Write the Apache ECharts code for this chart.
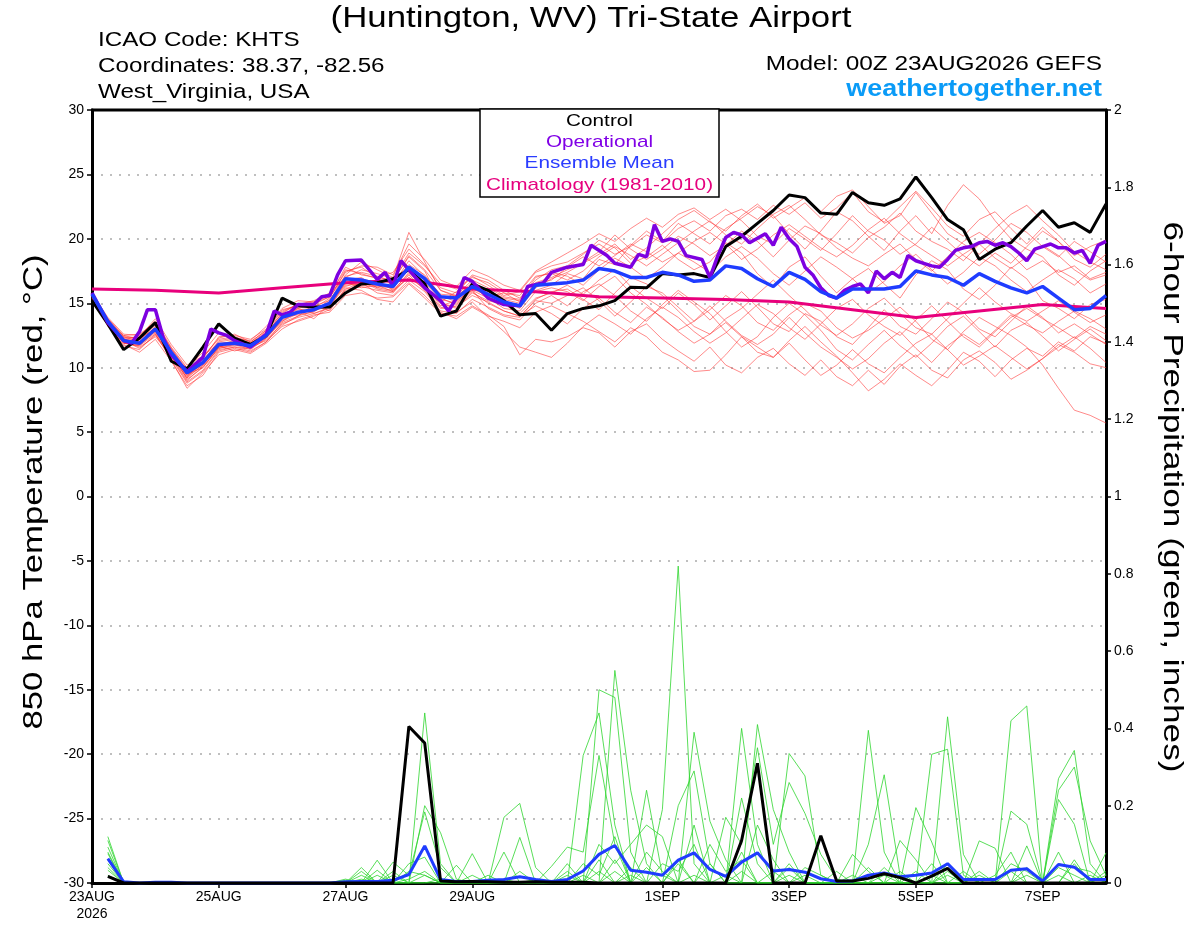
<!DOCTYPE html>
<html><head><meta charset="utf-8">
<script src="https://cdn.jsdelivr.net/npm/echarts@6.0.0/dist/echarts.min.js"></script>
<style>html,body{margin:0;padding:0;background:#fff}#chart{width:1200px;height:927px}</style>
</head><body><div id="chart"></div>
<script>
// ---------- axis ticks ----------
const xTickHours = [0, 48, 96, 144, 216, 264, 312, 360];
const xTickLabels = ['23AUG\n2026', '25AUG', '27AUG', '29AUG', '1SEP', '3SEP', '5SEP', '7SEP'];

// ---------- 850 hPa temperature (6-hourly, forecast hours 0..384) ----------
const controlTemp = [15.2,13.4,11.4,12.3,13.5,10.5,9.9,11.6,13.4,12.3, 11.8,12.5,15.4,14.8,14.7,14.7,15.8,16.5,16.6,16.9, 17.6,16.5,14.0,14.4,16.5,16.0,15.2,14.1,14.2,12.9, 14.2,14.6,14.8,15.2,16.25,16.2,17.3,17.2,17.3,17.0, 19.4,20.2,21.2,22.2,23.4,23.2,22.0,21.9,23.6,22.8, 22.6,23.1,24.8,23.2,21.5,20.7,18.4,19.2,19.7,21.0, 22.2,20.9,21.25,20.5,22.7];
const meanTemp = [15.7,13.6,12.1,11.9,13.0,11.2,9.6,10.4,11.8,11.9, 11.7,12.5,13.9,14.3,14.5,15.0,16.9,16.8,16.5,16.3, 17.8,16.9,15.5,15.4,16.3,15.7,15.1,14.8,16.4,16.5, 16.6,16.8,17.7,17.5,17.0,17.0,17.4,17.2,16.7,16.8, 17.9,17.7,16.9,16.3,17.4,16.85,15.9,15.4,16.1,16.1, 16.1,16.3,17.5,17.2,17.0,16.4,17.3,16.7,16.2,15.8, 16.3,15.4,14.5,14.6,15.6];
// operational run (3-hourly where visible)
const opHours = [0,6,12,15,18,21,24,27,30,36,42,45,48,51,54,60,66,69,72,75,78,84,87,90,93,96,102,105,108,111,114,117,120,126,129,132,135,138,141,144,150,156,162,165,171,174,180,186,189,195,198,204,207,210,213,216,219,222,225,231,234,237,240,243,246,249,255,258,261,264,267,270,273,276,279,282,285,288,291,294,297,300,303,306,309,312,315,318,321,324,327,330,333,336,339,342,345,348,351,354,357,360,363,366,369,372,375,378,381,384];
const opTemp = [15.8,13.5,12.1,11.9,12.8,14.5,14.5,12.3,11.0,9.7,10.8,13.0,12.7,12.5,12.1,11.6,12.6,14.4,14.1,14.3,14.9,14.9,15.5,15.6,17.2,18.3,18.35,17.6,16.85,17.4,16.3,18.3,17.6,16.2,15.7,15.2,14.4,15.4,17.0,16.7,15.4,14.9,14.8,16.3,16.6,17.4,17.8,18.0,19.5,18.7,18.1,17.8,18.8,18.6,21.1,19.8,20.0,19.8,18.7,18.4,17.0,18.7,20.1,20.5,20.3,19.7,20.4,19.5,20.9,20.0,19.4,17.8,17.2,16.2,15.6,15.4,16.0,16.3,16.5,15.8,17.5,16.9,17.4,17.0,18.7,18.3,18.1,17.9,17.8,18.4,19.1,19.3,19.4,19.7,19.8,19.5,19.7,19.4,18.9,18.3,19.2,19.4,19.6,19.3,19.3,18.9,19.1,18.1,19.5,19.8];
const climHours = [0,24,48,72,96,120,144,168,192,216,240,264,288,312,336,360,384];
const climTemp = [16.1,16.0,15.8,16.2,16.6,16.8,16.1,15.9,15.5,15.4,15.3,15.1,14.5,13.9,14.4,14.9,14.6];

// ensemble members
const member01 = [15.6,13.8,12.4,12.0,12.8,11.0,9.2,10.8,12.3,12.6, 12.0,12.9,14.2,15.0,14.6,15.4,17.5,17.8,17.0,17.4, 19.2,18.0,16.2,15.8,17.1,16.4,15.6,15.9,17.4,17.9, 18.2,18.9,19.6,18.8,19.4,20.3,19.7,20.8,21.4,20.6, 21.8,22.3,21.5,22.6,21.9,22.8,21.6,22.4,23.6,22.1, 21.3,22.5,23.7,22.4,21.0,20.2,21.5,22.1,20.8,19.6, 20.9,19.8,18.7,19.4,19.9];
const member02 = [15.5,13.2,11.8,11.2,12.2,10.5,8.6,9.4,11.2,11.5, 11.2,12.0,13.5,14.0,14.9,14.4,16.2,16.0,15.3,15.1, 16.5,15.4,14.2,14.0,14.8,14.1,13.2,11.0,12.2,12.0, 12.4,13.1,12.7,11.6,12.8,13.4,12.2,11.3,10.5,11.6, 10.2,9.6,10.8,11.5,10.3,9.4,10.6,9.3,8.6,9.8, 8.7,10.1,11.0,9.8,9.2,10.6,11.3,10.4,9.1,9.8, 10.7,11.8,11.2,10.3,10.0];
const member03 = [15.8,13.9,12.6,12.5,13.6,11.6,10.0,11.2,12.7,12.3, 12.1,13.2,14.6,15.2,15.1,15.6,17.8,17.2,17.0,16.8, 18.6,17.5,15.1,15.9,17.2,16.8,16.0,15.4,16.8,17.6, 17.9,18.8,19.9,19.3,18.1,18.6,19.5,18.4,17.6,18.2, 19.7,18.9,17.3,16.2,17.8,18.6,17.1,15.8,16.9,17.7, 16.5,15.4,17.2,18.3,17.6,16.1,15.3,16.4,17.8,16.9, 15.2,14.6,13.8,14.9,15.3];
const member04 = [15.6,13.4,12.0,11.6,12.4,10.9,9.0,10.1,11.5,11.8, 11.4,12.3,13.6,14.4,13.8,14.9,16.4,16.5,16.8,16.0, 17.0,16.2,15.0,14.6,15.8,15.2,14.9,14.2,15.4,15.8, 16.4,15.7,16.8,17.6,16.3,15.4,14.6,15.8,14.9,13.7, 14.8,15.9,14.7,13.4,12.8,14.2,13.6,12.4,11.8,13.1, 14.5,13.2,12.6,13.8,15.1,14.3,13.0,12.4,13.6,14.8, 13.9,12.7,13.4,12.6,11.8];
const member05 = [15.7,13.7,12.2,12.1,13.3,11.4,9.8,10.6,12.0,12.2, 11.9,12.8,14.0,14.7,14.8,15.2,17.2,18.2,17.6,17.0, 20.5,18.2,16.0,15.6,16.4,15.9,15.3,15.0,16.0,16.4, 17.3,16.9,18.4,18.0,19.5,20.6,19.8,21.2,20.4,19.6, 20.8,21.6,22.5,21.8,20.4,19.2,20.6,22.1,21.4,20.2, 19.1,20.6,21.8,20.4,22.6,24.2,23.1,21.4,20.0,19.2, 18.6,17.2,16.4,17.5,18.3];
const member06 = [15.4,13.3,11.9,11.8,12.7,10.8,8.9,9.8,11.4,11.6, 11.5,12.2,13.4,13.9,14.2,14.6,16.0,16.3,16.0,15.8, 17.2,16.0,14.6,14.8,15.9,15.0,14.4,14.0,15.2,15.0, 15.6,16.2,15.2,14.0,15.1,16.3,15.8,14.7,13.6,14.5, 15.6,14.8,13.5,12.9,14.1,15.0,14.4,13.1,12.3,12.9, 13.8,14.7,13.6,12.2,11.4,12.8,13.9,13.2,12.5,11.6, 10.2,8.4,6.7,6.3,5.7];
const member07 = [15.8,13.6,12.3,12.4,13.8,11.8,10.2,10.9,11.9,12.0, 11.8,12.6,13.9,14.1,14.3,15.3,16.8,17.0,16.2,16.6, 18.0,17.2,15.6,15.1,16.2,15.5,15.8,15.6,17.1,17.3, 16.8,17.5,18.6,19.4,18.7,17.9,18.8,19.7,20.6,21.4, 20.3,19.6,20.8,21.9,22.6,21.5,20.3,19.7,18.9,20.1, 20.9,22.0,20.6,19.8,19.2,18.3,19.6,20.8,21.9,22.6, 21.4,20.3,19.0,18.2,17.6];
const member08 = [15.5,13.5,12.1,11.5,12.5,11.1,9.3,10.2,11.7,11.3, 11.6,12.4,13.8,14.6,14.2,14.7,16.6,16.2,16.4,15.9, 17.4,16.4,14.8,15.2,16.0,14.6,14.0,13.7,15.0,15.6, 14.8,15.9,16.5,15.6,14.4,13.6,14.9,16.0,15.1,14.2, 12.8,11.6,12.4,13.9,15.0,14.1,12.9,11.4,10.6,11.8, 12.9,11.7,10.8,11.9,13.2,14.0,12.8,11.6,12.9,13.5, 12.4,11.3,12.2,13.0,12.1];
const member09 = [15.6,13.6,12.5,12.2,13.1,11.3,9.5,10.0,11.6,11.9, 11.5,12.6,14.3,14.9,15.2,15.8,17.0,17.6,17.3,16.9, 18.9,17.9,16.5,16.1,17.0,16.6,15.8,15.1,16.6,17.0, 17.6,18.2,19.0,20.3,19.2,18.4,19.2,20.2,19.6,18.7, 19.5,20.6,19.8,18.6,19.9,21.0,20.4,19.3,18.5,17.9, 18.8,19.6,18.4,17.5,18.6,19.8,20.5,19.7,18.8,17.6, 18.3,17.4,17.9,16.9,17.4];
const member10 = [15.7,13.5,11.9,11.7,12.9,11.0,9.4,10.3,11.8,12.1, 11.6,12.1,13.2,13.6,14.0,14.5,16.1,16.6,15.8,15.6, 16.8,15.9,14.4,14.2,15.3,14.7,14.1,13.9,15.3,15.9, 16.1,15.3,14.5,15.8,17.0,16.5,15.6,14.4,13.2,12.6, 13.8,14.6,15.7,16.8,15.6,14.5,13.3,12.5,13.4,14.6, 15.4,14.2,13.1,12.6,13.8,15.0,16.2,15.1,14.2,13.6, 14.4,15.2,14.3,13.5,14.1];
const member11 = [15.6,13.3,11.7,11.4,12.6,10.6,8.4,9.6,11.0,11.4, 11.1,11.9,13.0,13.7,14.1,14.3,15.6,15.8,15.4,15.5, 16.6,15.6,14.3,13.8,14.7,14.0,13.6,13.1,14.3,14.8, 14.2,13.6,12.8,12.0,13.1,12.4,11.2,10.6,9.7,9.8, 11.0,12.4,11.6,10.8,12.1,13.2,12.0,10.9,9.6,8.2, 9.1,10.3,9.4,8.6,9.8,11.2,10.5,9.3,10.6,11.5, 10.9,12.0,11.3,12.4,11.9];
const member12 = [15.7,13.8,12.5,12.6,13.5,11.5,9.7,10.7,12.4,12.5, 12.2,13.0,14.5,14.8,15.0,15.5,17.4,17.9,17.8,17.2, 19.6,18.4,16.8,16.3,17.6,17.1,16.4,16.0,17.5,18.2, 18.9,19.6,20.4,19.8,20.8,21.6,20.9,21.9,22.4,21.5, 22.3,21.4,20.2,19.6,20.8,20.0,19.1,20.4,21.8,20.6, 19.9,18.8,19.6,20.9,19.8,18.7,17.9,18.9,18.1,19.4, 20.6,19.8,18.4,17.8,18.8];
const member13 = [15.5,13.4,12.0,11.9,13.2,11.2,9.1,10.0,11.5,11.7, 11.7,12.4,13.6,14.2,14.5,15.1,16.6,16.4,16.3,16.2, 17.6,16.6,15.3,15.0,16.1,15.6,15.2,14.6,16.2,16.9, 17.4,18.1,18.8,19.6,18.4,19.3,20.4,21.5,22.2,21.3, 20.6,21.8,22.7,21.6,22.4,23.2,22.1,23.3,23.8,22.5, 21.2,21.8,23.6,22.0,20.4,19.6,18.8,19.9,21.2,20.5, 19.4,18.6,19.8,19.0,18.2];
const member14 = [15.6,13.5,12.2,12.0,12.9,11.1,9.4,10.3,11.6,12.0, 11.8,12.3,14.0,14.5,14.6,14.9,16.7,16.9,16.6,16.1, 17.9,16.8,15.4,14.9,16.0,15.4,14.6,14.4,15.9,16.2, 15.9,15.2,16.3,17.1,15.8,14.9,13.8,12.9,13.6,14.8, 13.6,12.5,11.8,12.6,13.9,12.7,11.6,10.8,9.9,10.7, 11.9,12.8,11.5,10.4,11.7,12.6,11.8,12.9,14.1,13.3, 12.7,13.6,14.4,13.8,13.0];
const member15 = [15.7,13.6,12.3,12.2,13.4,11.5,9.9,10.9,12.2,12.4, 12.0,12.9,14.4,14.9,15.1,15.7,17.6,17.3,16.9,16.5, 18.3,17.1,15.7,15.6,16.8,16.2,15.5,15.3,17.0,17.4, 17.1,16.4,17.6,18.5,17.8,16.9,17.8,18.9,18.2,17.4, 18.6,19.4,18.5,17.3,16.4,17.5,18.6,17.8,16.9,15.8, 16.7,17.9,18.8,17.6,16.5,17.4,18.6,17.9,16.8,15.9, 16.8,17.6,16.9,15.8,16.5];
const member16 = [15.5,13.4,11.9,11.7,12.6,10.7,8.8,9.7,11.3,11.6, 11.3,12.0,13.3,14.0,14.4,14.8,16.3,16.7,16.1,15.9, 17.0,16.1,14.7,14.3,15.1,13.9,12.8,11.6,11.2,10.8, 11.9,13.2,14.1,13.4,12.6,13.8,14.7,13.9,12.8,11.9, 12.7,13.8,14.9,14.2,13.1,12.2,13.4,14.6,15.3,14.1, 13.2,12.5,13.7,14.8,13.6,12.4,11.6,12.8,13.9,14.6, 13.8,13.1,12.3,13.2,12.6];
const member17 = [15.6,13.7,12.4,12.3,13.0,11.2,9.6,10.5,12.1,12.3, 11.9,12.7,14.1,14.6,14.9,15.5,17.1,17.4,17.1,16.7, 18.7,17.6,16.0,15.5,16.6,16.0,15.4,15.2,16.5,16.8, 17.8,18.6,17.9,18.7,19.6,19.0,18.2,18.9,19.8,20.5, 19.6,18.4,19.2,20.3,21.1,20.2,19.3,18.6,19.5,20.7, 21.6,20.4,19.5,18.7,17.9,18.8,19.6,18.5,17.7,18.6, 19.5,18.7,17.6,16.8,17.2];
const member18 = [15.6,13.4,12.0,11.8,12.8,10.9,9.2,10.2,11.6,11.8, 11.6,12.3,13.7,14.3,14.4,15.0,16.5,16.8,16.2,16.0, 17.3,16.3,15.0,14.7,15.6,15.1,14.4,14.0,14.8,14.2, 13.4,14.6,15.4,14.3,13.5,14.7,13.9,12.8,11.9,12.6, 13.5,12.4,11.2,10.8,11.9,10.6,9.4,10.2,11.4,10.3, 9.6,10.8,11.9,12.6,11.4,10.2,10.9,11.7,10.8,9.9, 10.7,11.6,12.4,11.5,10.4];
const memberTemps = [member01,member02,member03,member04,member05,member06,member07,member08,member09,member10,member11,member12,member13,member14,member15,member16,member17,member18];

// ---------- 6-hour precipitation (inches), first step has none ----------
const controlPrecip = [null,0.017,0,0,0,0,0,0,0,0, 0,0,0,0,0,0,0,0,0,0, 0.405,0.362,0.005,0.003,0.004,0.003,0.002,0.002,0.003,0.002, 0.002,0.002,0,0,0,0,0,0,0,0, 0,0.11,0.31,0,0,0,0.122,0.005,0.005,0.012, 0.024,0.014,0,0.018,0.038,0,0,0,0,0, 0,0,0,0,0];
const meanPrecip = [null,0.063,0.003,0,0.002,0.002,0,0,0,0, 0,0,0,0,0,0,0.003,0.004,0.004,0.007, 0.022,0.096,0.009,0.004,0.004,0.007,0.009,0.016,0.009,0.004, 0.009,0.031,0.074,0.097,0.033,0.028,0.02,0.059,0.078,0.035, 0.017,0.054,0.078,0.031,0.035,0.028,0.011,0.004,0.005,0.02, 0.026,0.016,0.02,0.026,0.05,0.009,0.009,0.009,0.033,0.037, 0.005,0.048,0.041,0.009,0.009];
const precip01 = [null,0.12,0,0,0,0,0,0,0,0, 0,0,0,0,0,0,0,0.04,0,0, 0,0.44,0.05,0,0,0,0,0,0,0, 0,0,0.50,0.48,0.08,0,0,0,0,0, 0,0.22,0.05,0,0,0,0,0,0,0.395, 0.08,0,0,0,0,0,0,0,0.42,0.458, 0,0,0.05,0,0];
const precip02 = [null,0.11,0,0,0,0,0,0,0,0, 0,0,0,0,0,0,0,0,0.059,0, 0,0.2,0.13,0.01,0,0,0.17,0.206,0.04,0, 0,0,0,0.55,0.24,0.05,0,0.2,0.29,0.05, 0,0,0,0,0.335,0.277,0.02,0,0,0, 0,0,0,0,0.43,0.074,0,0,0,0, 0,0.27,0.343,0.05,0];
const precip03 = [null,0.093,0,0,0,0,0,0,0,0, 0,0,0,0,0,0,0,0,0,0.054, 0.02,0.184,0.04,0,0.076,0,0,0.118,0,0, 0,0.33,0.44,0.15,0,0,0.19,0.82,0.05,0, 0,0.40,0.10,0,0,0,0,0,0,0, 0,0,0,0.333,0.346,0.02,0,0,0,0, 0,0.24,0.30,0.109,0.02];
const precip04 = [null,0.076,0,0,0,0,0,0,0,0, 0,0,0,0,0,0,0,0.02,0,0, 0.05,0.067,0,0,0,0,0,0,0,0.043, 0.093,0.08,0.33,0.1,0,0.24,0.02,0,0.39,0.16, 0.06,0,0.41,0.19,0.08,0,0,0,0,0.1, 0.28,0.02,0,0,0,0,0,0,0.186,0.152, 0,0.216,0.152,0,0.078];
const precip05 = [null,0.033,0,0,0,0,0,0,0,0, 0,0,0,0,0,0,0.007,0,0.033,0, 0,0.02,0,0,0,0,0.08,0,0,0, 0.05,0,0.1,0.05,0.1,0.15,0.12,0,0.15,0, 0.17,0.1,0.35,0.1,0.26,0.18,0.074,0.01,0,0, 0,0,0.195,0.106,0,0,0.109,0.09,0,0.096, 0,0,0,0,0];
const precip06 = [null,0.02,0,0,0,0,0,0,0,0, 0,0,0,0,0,0,0,0.03,0,0.02, 0,0,0,0.046,0,0,0,0,0,0, 0,0.05,0.02,0.12,0,0,0,0.05,0,0.1, 0.03,0.06,0,0,0.02,0,0,0,0.074,0.03, 0,0.11,0.06,0,0.05,0,0.03,0,0.05,0.03, 0,0.05,0.04,0.03,0];
const precip07 = [null,0.05,0,0,0,0,0,0,0,0, 0,0,0,0,0,0,0,0,0,0, 0.03,0.02,0,0,0,0,0,0,0.01,0, 0.03,0,0.06,0,0.04,0,0.05,0.03,0.1,0, 0,0,0.15,0.06,0,0.04,0.02,0,0,0, 0.04,0,0,0.05,0,0.03,0,0.02,0.08,0, 0,0.04,0.02,0,0.03];
const precip08 = [null,0.04,0,0,0,0,0,0,0,0, 0,0,0,0,0,0,0.01,0,0.02,0, 0,0,0.01,0,0,0.02,0,0,0,0, 0,0.02,0,0.06,0,0.08,0.03,0,0,0.05, 0,0.08,0,0,0.05,0,0,0.03,0,0.04, 0,0,0.03,0,0.02,0,0,0,0,0.04, 0,0.08,0,0.02,0];
const precip09 = [null,0.06,0,0,0,0,0,0,0,0, 0,0,0,0,0,0,0,0.01,0,0.03, 0,0,0,0,0.02,0,0,0.03,0,0, 0,0,0.03,0,0.02,0,0,0.06,0,0, 0.02,0,0,0.03,0,0.02,0,0,0,0, 0.02,0,0,0.02,0,0,0.02,0,0,0.02, 0,0,0.06,0,0];
const precip10 = [null,0.08,0,0,0,0,0,0,0,0, 0,0,0,0,0,0,0,0,0,0, 0.01,0.03,0,0,0,0,0.01,0,0,0, 0.02,0,0,0.03,0,0.04,0,0,0.02,0, 0,0.03,0,0,0.04,0,0,0,0.02,0, 0,0.03,0,0,0.03,0,0,0,0.03,0, 0,0.02,0,0,0.02];
const memberPrecips = [precip01,precip02,precip03,precip04,precip05,precip06,precip07,precip08,precip09,precip10];

// ---------- build ----------
const STEP = 6;
function stepPairs(vals) {
  const out = [];
  vals.forEach((v, k) => { if (v !== null) out.push([k * STEP, v]); });
  return out;
}
function hourPairs(hrs, vals) { return hrs.map((h, i) => [h, vals[i]]); }

const FONT = '"Liberation Sans", Arial, Helvetica, sans-serif';
const series = [];
memberTemps.forEach((m, i) => series.push({
  name: 'member' + (i + 1), type: 'line', yAxisIndex: 0, data: stepPairs(m),
  showSymbol: false, symbol: 'none', silent: true, z: 1,
  lineStyle: { color: 'rgba(255,45,45,0.7)', width: 0.8 }
}));
memberPrecips.forEach((m, i) => series.push({
  name: 'precip' + (i + 1), type: 'line', yAxisIndex: 1, data: stepPairs(m),
  showSymbol: false, symbol: 'none', silent: true, z: 2,
  lineStyle: { color: '#2ed62e', width: 0.8 }
}));
series.push({ name: 'Climatology', type: 'line', yAxisIndex: 0, data: hourPairs(climHours, climTemp),
  symbol: 'none', z: 3, lineStyle: { color: '#e8007c', width: 3 } });
series.push({ name: 'Mean precip', type: 'line', yAxisIndex: 1, data: stepPairs(meanPrecip),
  symbol: 'none', z: 4, lineStyle: { color: '#1f3cff', width: 3 } });
series.push({ name: 'Control precip', type: 'line', yAxisIndex: 1, data: stepPairs(controlPrecip),
  symbol: 'none', z: 5, lineStyle: { color: '#000', width: 3 } });
series.push({ name: 'Control', type: 'line', yAxisIndex: 0, data: stepPairs(controlTemp),
  symbol: 'none', z: 5, lineStyle: { color: '#000', width: 3 } });
series.push({ name: 'Operational', type: 'line', yAxisIndex: 0, data: hourPairs(opHours, opTemp),
  symbol: 'none', z: 6, lineStyle: { color: '#7d00e0', width: 3.5 } });
series.push({ name: 'Ensemble Mean', type: 'line', yAxisIndex: 0, data: stepPairs(meanTemp),
  symbol: 'none', z: 7, lineStyle: { color: '#1f3cff', width: 3.5 } });

function txt(str, x, y, font, color, align, sx, extra) {
  return Object.assign({ type: 'text', x: x, y: y, z: 100, scaleX: sx, scaleY: 1,
    style: { text: str, font: font + ' ' + FONT, fill: color, align: align, verticalAlign: 'middle', textAlign: align, textVerticalAlign: 'middle' } }, extra || {});
}

const chart = echarts.init(document.getElementById('chart'), null, { renderer: 'canvas' });
chart.setOption({
  animation: false,
  backgroundColor: '#fff',
  textStyle: { fontFamily: FONT },
  grid: { left: 92, right: 94, top: 110, bottom: 44, show: false, containLabel: false },
  xAxis: {
    type: 'value', min: 0, max: 384,
    axisLine: { show: true, onZero: false, lineStyle: { color: '#000', width: 3 } },
    axisTick: { show: true, customValues: xTickHours, length: 5, lineStyle: { color: '#000', width: 1.5 } },
    axisLabel: {
      customValues: xTickHours, color: '#000', fontSize: 14, margin: 6, lineHeight: 17, fontFamily: FONT,
      formatter: v => { const i = xTickHours.indexOf(v); return i >= 0 ? xTickLabels[i] : ''; }
    },
    splitLine: { show: false }
  },
  yAxis: [
    {
      type: 'value', min: -30, max: 30, interval: 5, position: 'left',
      axisLine: { show: true, lineStyle: { color: '#000', width: 3 } },
      axisTick: { show: true, length: 5, lineStyle: { color: '#000', width: 1.5 } },
      axisLabel: { color: '#000', fontSize: 14, margin: 8, fontFamily: FONT },
      splitLine: { show: true, lineStyle: { color: '#aaaaaa', width: 1.5, type: [2, 7] } }
    },
    {
      type: 'value', min: 0, max: 2, interval: 0.2, position: 'right',
      axisLine: { show: true, lineStyle: { color: '#000', width: 3 } },
      axisTick: { show: true, length: 5, lineStyle: { color: '#000', width: 1.5 } },
      axisLabel: { color: '#000', fontSize: 14, margin: 8, fontFamily: FONT },
      splitLine: { show: false }
    }
  ],
  graphic: [
    { type: 'line', z: 90, shape: { x1: 91, y1: 110, x2: 1107, y2: 110 }, style: { stroke: '#000', lineWidth: 3 } },
    txt('(Huntington, WV) Tri-State Airport', 591, 19, '30px', '#000', 'center', 1.16),
    txt('ICAO Code: KHTS', 98, 40, '20px', '#000', 'left', 1.21),
    txt('Coordinates: 38.37, -82.56', 98, 66, '20px', '#000', 'left', 1.21),
    txt('West_Virginia, USA', 98, 92, '20px', '#000', 'left', 1.21),
    txt('Model: 00Z 23AUG2026 GEFS', 1102, 64, '20px', '#000', 'right', 1.22),
    txt('weathertogether.net', 1102, 90, 'bold 23px', '#0a9bf7', 'right', 1.17),
    txt('850 hPa Temperature (red, °C)', 34, 492, '28px', '#000', 'center', 1.24, { rotation: Math.PI / 2 }),
    txt('6-hour Precipitation (green, inches)', 1172, 497, '28px', '#000', 'center', 1.26, { rotation: -Math.PI / 2 }),
    { type: 'rect', z: 100, shape: { x: 480, y: 109, width: 239, height: 88 }, style: { fill: '#fff', stroke: '#000', lineWidth: 1.5 } },
    txt('Control', 599.5, 121, '17px', '#000', 'center', 1.22, { z: 101 }),
    txt('Operational', 599.5, 142, '17px', '#8000e6', 'center', 1.22, { z: 101 }),
    txt('Ensemble Mean', 599.5, 163, '17px', '#2a3cff', 'center', 1.22, { z: 101 }),
    txt('Climatology (1981-2010)', 599.5, 185, '17px', '#e6007e', 'center', 1.22, { z: 101 })
  ],
  series: series
});
</script></body></html>
